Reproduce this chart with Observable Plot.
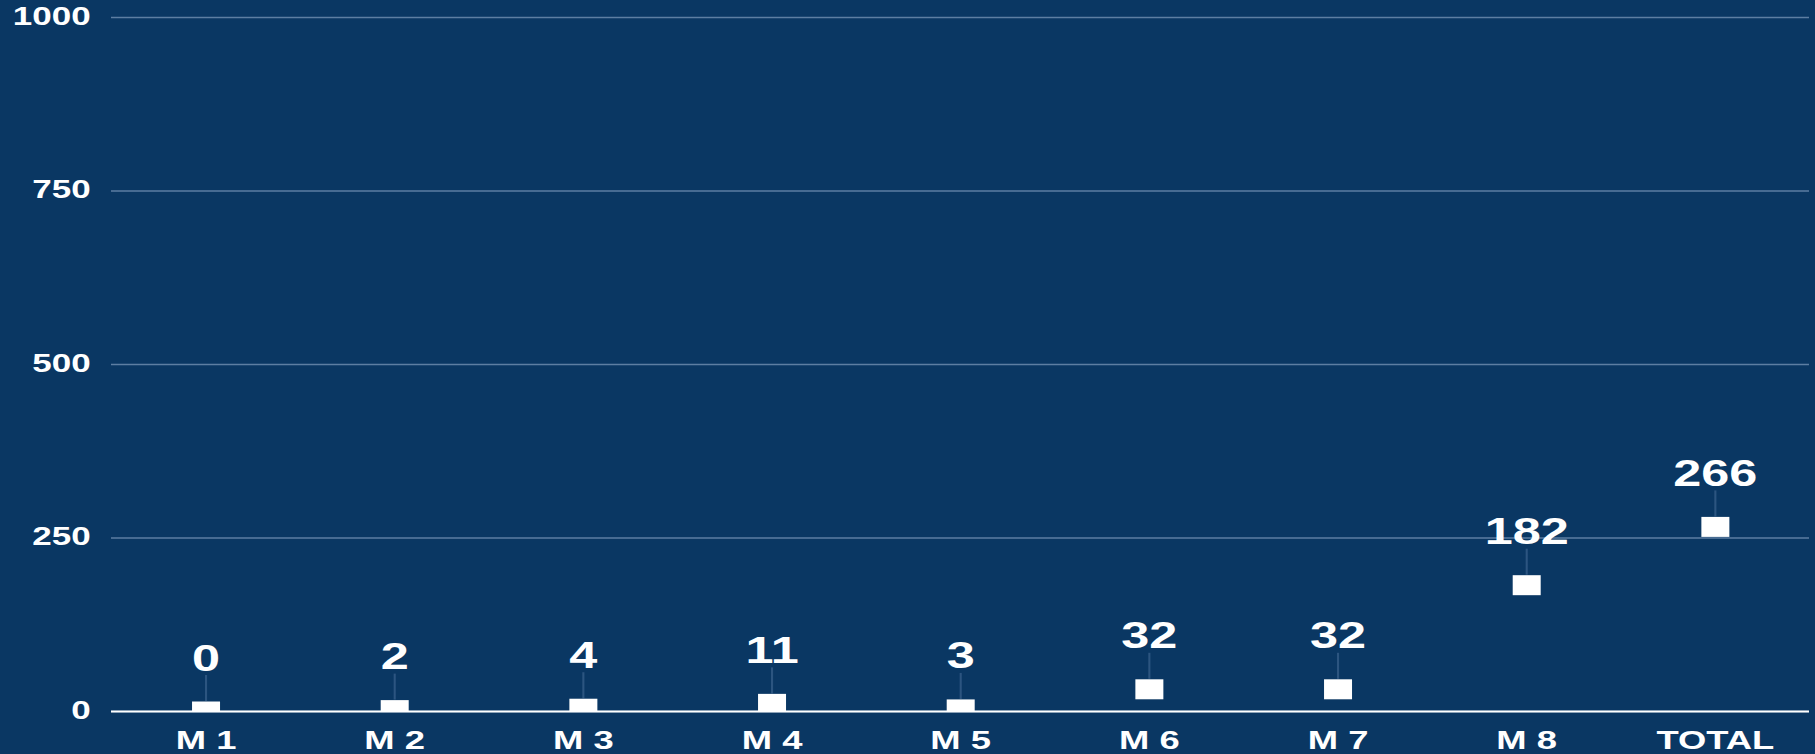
<!DOCTYPE html>
<html>
<head>
<meta charset="utf-8">
<script src="https://cdn.jsdelivr.net/npm/d3@7"></script>
<script src="https://cdn.jsdelivr.net/npm/@observablehq/plot@0.6"></script>
<style>
  html, body { margin: 0; padding: 0; background: #0a3763; overflow: hidden; }
  #chart svg { display: block; }
</style>
</head>
<body>
<div id="chart"></div>
<script>
const categories = ["M 1", "M 2", "M 3", "M 4", "M 5", "M 6", "M 7", "M 8", "TOTAL"];
const values = [0, 2, 4, 11, 3, 32, 32, 182, 266];
const yTicks = [0, 250, 500, 750, 1000];

const data = categories.map((c, i) => ({category: c, value: values[i]}));

const W = 1815, H = 754, stretch = 1.4;
const baseW = W / stretch;
const bg = "#0a3763";

const chart = Plot.plot({
  width: baseW,
  height: H,
  marginLeft: 111 / stretch,
  marginRight: 6 / stretch,
  marginTop: 17,
  marginBottom: 43,
  style: {background: bg, color: "white", fontFamily: "'Liberation Sans', Arial, sans-serif"},
  x: {type: "band", domain: categories, padding: 0, round: false, label: null},
  y: {domain: [0, 1000], label: null},
  marks: [
    Plot.gridY(yTicks, {stroke: "#5d7ea2", strokeOpacity: 1, strokeWidth: 1.5}),
    Plot.axisY(yTicks, {tickSize: 0, tickPadding: 15, fontSize: 25, fontWeight: "bold", fill: "white", tickFormat: d => String(d), label: null, dy: -1}),
    Plot.axisX({tickSize: 0, tickPadding: 19, fontSize: 26, fontWeight: "bold", fill: "white", label: null}),
    Plot.ruleX(data, {x: "category", y1: "value", y2: "value", dy: -23, insetTop: -13, insetBottom: -13, stroke: "#2c5580", strokeWidth: 1.5}),
    Plot.dot(data, {x: "category", y: "value", symbol: "square", r: 20 / Math.sqrt(Math.PI), fill: "white", stroke: "none", clip: "frame"}),
    Plot.ruleY([0], {stroke: "white", strokeWidth: 2}),
    Plot.text(data, {x: "category", y: "value", text: d => String(d.value), lineAnchor: "bottom", dy: -41, fontSize: 36, fontWeight: "bold", fill: "white"})
  ]
});

chart.setAttribute("preserveAspectRatio", "none");
chart.style.width = W + "px";
chart.style.height = H + "px";
chart.style.maxWidth = "none";
document.getElementById("chart").appendChild(chart);
</script>
</body>
</html>
